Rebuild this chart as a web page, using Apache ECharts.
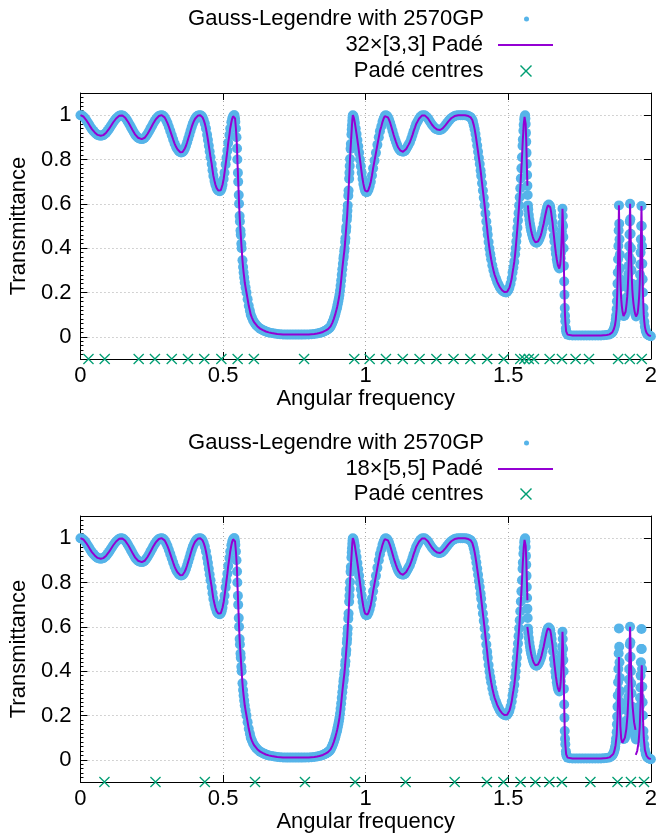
<!DOCTYPE html>
<html>
<head>
<meta charset="utf-8">
<title>Transmittance</title>
<script src="https://cdn.jsdelivr.net/npm/echarts@6/dist/echarts.min.js"></script>
<style>
html,body{margin:0;padding:0;background:#fff;}
#main{width:660px;height:834px;}
</style>
</head>
<body>
<div id="main"></div>
<script>
// Gauss-Legendre reference [angular frequency, transmittance]
var glCurve = [
    [0.000,1.000],[0.005,0.998],[0.010,0.994],[0.015,0.987],[0.020,0.978],[0.025,0.968],[0.030,0.958],[0.035,0.947],
    [0.040,0.937],[0.045,0.929],[0.050,0.922],[0.055,0.916],[0.060,0.911],[0.065,0.908],[0.071,0.907],[0.076,0.908],
    [0.080,0.910],[0.085,0.915],[0.090,0.921],[0.095,0.929],[0.100,0.938],[0.105,0.948],[0.110,0.958],[0.115,0.968],
    [0.120,0.977],[0.125,0.985],[0.130,0.991],[0.136,0.997],[0.142,1.000],[0.147,0.999],[0.152,0.995],[0.157,0.988],
    [0.162,0.980],[0.167,0.969],[0.172,0.958],[0.177,0.946],[0.182,0.934],[0.187,0.923],[0.192,0.912],[0.197,0.904],
    [0.202,0.898],[0.208,0.894],[0.215,0.892],[0.220,0.894],[0.225,0.898],[0.230,0.906],[0.235,0.915],[0.240,0.926],
    [0.245,0.938],[0.250,0.950],[0.255,0.962],[0.260,0.973],[0.265,0.983],[0.270,0.991],[0.275,0.996],[0.280,0.999],
    [0.285,1.000],[0.290,0.997],[0.295,0.990],[0.300,0.978],[0.305,0.964],[0.310,0.947],[0.315,0.928],[0.320,0.909],
    [0.325,0.890],[0.330,0.872],[0.335,0.857],[0.340,0.846],[0.345,0.837],[0.350,0.833],[0.354,0.832],[0.358,0.834],
    [0.362,0.840],[0.366,0.850],[0.370,0.862],[0.374,0.878],[0.378,0.895],[0.382,0.912],[0.386,0.930],[0.390,0.947],
    [0.394,0.962],[0.398,0.974],[0.402,0.984],[0.406,0.992],[0.411,0.997],[0.415,0.999],[0.420,1.000],[0.424,0.997],
    [0.428,0.990],[0.432,0.978],[0.436,0.962],[0.440,0.940],[0.444,0.912],[0.447,0.888],[0.450,0.862],[0.453,0.836],
    [0.456,0.810],[0.460,0.780],[0.463,0.752],[0.466,0.726],[0.470,0.703],[0.473,0.687],[0.477,0.672],[0.480,0.665],
    [0.483,0.660],[0.486,0.658],[0.489,0.657],[0.492,0.661],[0.495,0.670],[0.498,0.686],[0.502,0.712],[0.505,0.740],
    [0.509,0.778],[0.512,0.808],[0.515,0.840],[0.518,0.875],[0.522,0.910],[0.525,0.940],[0.529,0.968],[0.532,0.985],
    [0.535,0.995],[0.538,1.000],[0.540,1.000],[0.542,0.985],[0.543,0.970],[0.545,0.940],[0.547,0.900],[0.549,0.850],
    [0.550,0.800],[0.552,0.740],[0.553,0.700],[0.555,0.640],[0.556,0.600],[0.558,0.545],[0.559,0.520],[0.561,0.480],
    [0.562,0.460],[0.564,0.420],[0.565,0.400],[0.568,0.345],[0.570,0.315],[0.572,0.290],[0.574,0.268],[0.576,0.245],
    [0.579,0.222],[0.582,0.200],[0.586,0.170],[0.590,0.140],[0.594,0.118],[0.597,0.100],[0.601,0.087],[0.605,0.075],
    [0.610,0.064],[0.615,0.055],[0.620,0.048],[0.625,0.042],[0.630,0.037],[0.635,0.033],[0.640,0.030],[0.645,0.027],
    [0.650,0.024],[0.655,0.022],[0.660,0.020],[0.670,0.017],[0.680,0.015],[0.690,0.013],[0.700,0.012],[0.710,0.011],
    [0.720,0.010],[0.730,0.010],[0.740,0.010],[0.750,0.010],[0.760,0.010],[0.770,0.010],[0.780,0.010],[0.790,0.011],
    [0.800,0.011],[0.810,0.012],[0.820,0.013],[0.830,0.015],[0.838,0.017],[0.845,0.020],[0.850,0.022],[0.855,0.025],
    [0.859,0.028],[0.862,0.030],[0.865,0.032],[0.868,0.035],[0.871,0.038],[0.874,0.041],[0.877,0.047],[0.880,0.055],
    [0.883,0.063],[0.885,0.070],[0.888,0.080],[0.890,0.088],[0.893,0.100],[0.895,0.110],[0.898,0.124],[0.900,0.135],
    [0.902,0.147],[0.904,0.160],[0.906,0.174],[0.908,0.189],[0.910,0.208],[0.912,0.230],[0.914,0.254],[0.916,0.280],
    [0.918,0.305],[0.920,0.330],[0.922,0.353],[0.923,0.365],[0.925,0.386],[0.926,0.398],[0.928,0.428],[0.929,0.445],
    [0.931,0.478],[0.932,0.495],[0.934,0.528],[0.935,0.545],[0.936,0.569],[0.937,0.593],[0.939,0.637],[0.940,0.660],
    [0.942,0.713],[0.943,0.740],[0.944,0.771],[0.945,0.802],[0.947,0.848],[0.948,0.870],[0.950,0.913],[0.951,0.935],
    [0.952,0.955],[0.953,0.975],[0.954,0.990],[0.955,1.000],[0.957,0.996],[0.958,0.990],[0.960,0.979],[0.962,0.965],
    [0.965,0.940],[0.968,0.915],[0.971,0.888],[0.974,0.860],[0.977,0.830],[0.980,0.800],[0.983,0.770],[0.986,0.740],
    [0.989,0.713],[0.992,0.690],[0.995,0.672],[0.998,0.660],[1.000,0.655],[1.003,0.652],[1.006,0.655],[1.010,0.665],
    [1.014,0.680],[1.018,0.700],[1.022,0.728],[1.026,0.760],[1.031,0.795],[1.036,0.830],[1.041,0.866],[1.046,0.900],
    [1.050,0.928],[1.055,0.950],[1.059,0.970],[1.063,0.985],[1.067,0.996],[1.070,1.000],[1.074,0.997],[1.078,0.990],
    [1.082,0.979],[1.086,0.965],[1.090,0.948],[1.094,0.930],[1.098,0.912],[1.102,0.895],[1.106,0.880],[1.110,0.866],
    [1.114,0.854],[1.118,0.845],[1.122,0.840],[1.125,0.837],[1.131,0.835],[1.135,0.837],[1.138,0.840],[1.142,0.847],
    [1.146,0.856],[1.150,0.866],[1.155,0.878],[1.160,0.895],[1.164,0.910],[1.168,0.927],[1.173,0.945],[1.177,0.960],
    [1.182,0.972],[1.187,0.984],[1.192,0.993],[1.197,0.998],[1.203,1.000],[1.208,0.998],[1.213,0.993],[1.218,0.986],
    [1.222,0.978],[1.227,0.968],[1.232,0.958],[1.237,0.950],[1.242,0.943],[1.246,0.938],[1.251,0.935],[1.256,0.933],
    [1.261,0.933],[1.266,0.936],[1.270,0.940],[1.275,0.947],[1.280,0.955],[1.285,0.964],[1.290,0.972],[1.295,0.980],
    [1.300,0.986],[1.306,0.992],[1.312,0.996],[1.318,0.999],[1.325,1.000],[1.333,1.000],[1.340,1.000],[1.348,1.000],
    [1.355,0.998],[1.360,0.996],[1.365,0.993],[1.368,0.990],[1.371,0.985],[1.374,0.978],[1.376,0.970],[1.379,0.955],
    [1.382,0.937],[1.385,0.915],[1.388,0.890],[1.391,0.863],[1.394,0.835],[1.397,0.807],[1.400,0.780],[1.403,0.750],
    [1.405,0.727],[1.408,0.693],[1.411,0.660],[1.414,0.627],[1.417,0.593],[1.420,0.556],[1.423,0.520],[1.426,0.487],
    [1.428,0.460],[1.431,0.428],[1.434,0.398],[1.437,0.373],[1.440,0.350],[1.444,0.323],[1.448,0.300],[1.452,0.280],
    [1.457,0.263],[1.461,0.248],[1.466,0.235],[1.470,0.224],[1.475,0.215],[1.479,0.209],[1.483,0.205],[1.487,0.202],
    [1.492,0.200],[1.496,0.203],[1.500,0.210],[1.504,0.222],[1.508,0.240],[1.512,0.263],[1.515,0.290],[1.518,0.313],
    [1.521,0.338],[1.524,0.372],[1.526,0.400],[1.528,0.430],[1.530,0.460],[1.532,0.492],[1.534,0.525],[1.536,0.558],
    [1.538,0.593],[1.540,0.630],[1.542,0.670],[1.544,0.714],[1.546,0.760],[1.548,0.810],[1.550,0.862],[1.551,0.890],
    [1.553,0.930],[1.554,0.957],[1.556,0.980],[1.557,0.992],[1.559,1.000],[1.560,0.985],[1.561,0.960],[1.562,0.920],
    [1.563,0.880],[1.564,0.830],[1.565,0.780],[1.566,0.730],[1.567,0.682],[1.568,0.640],[1.569,0.593],[1.570,0.575],
    [1.572,0.550],[1.574,0.528],[1.576,0.510],[1.578,0.494],[1.580,0.480],[1.583,0.464],[1.586,0.450],[1.589,0.439],
    [1.592,0.430],[1.595,0.427],[1.598,0.425],[1.601,0.426],[1.604,0.430],[1.607,0.437],[1.610,0.445],[1.614,0.458],
    [1.617,0.472],[1.620,0.489],[1.624,0.510],[1.627,0.530],[1.630,0.550],[1.633,0.568],[1.636,0.583],[1.639,0.593],
    [1.642,0.597],[1.645,0.592],[1.647,0.585],[1.650,0.565],[1.652,0.545],[1.655,0.518],[1.657,0.490],[1.660,0.455],
    [1.662,0.430],[1.665,0.397],[1.667,0.375],[1.670,0.350],[1.672,0.335],[1.674,0.323],[1.676,0.315],[1.679,0.308],
    [1.681,0.315],[1.682,0.325],[1.684,0.355],[1.685,0.380],[1.686,0.410],[1.687,0.440],[1.688,0.475],[1.689,0.510],
    [1.690,0.578],[1.691,0.545],[1.692,0.500],[1.693,0.450],[1.694,0.400],[1.695,0.320],[1.696,0.250],[1.697,0.190],
    [1.698,0.130],[1.699,0.095],[1.700,0.070],[1.702,0.038],[1.703,0.025],[1.705,0.016],[1.708,0.010],[1.715,0.007],
    [1.725,0.006],[1.735,0.006],[1.745,0.006],[1.755,0.006],[1.765,0.006],[1.775,0.006],[1.785,0.006],[1.795,0.006],
    [1.805,0.006],[1.815,0.006],[1.825,0.006],[1.835,0.007],[1.845,0.008],[1.855,0.011],[1.862,0.016],[1.865,0.021],
    [1.868,0.028],[1.870,0.034],[1.872,0.042],[1.874,0.052],[1.875,0.060],[1.877,0.078],[1.878,0.095],[1.880,0.125],
    [1.881,0.160],[1.882,0.195],[1.883,0.240],[1.884,0.290],[1.885,0.350],[1.886,0.410],[1.887,0.480],[1.888,0.593],
    [1.889,0.510],[1.890,0.440],[1.891,0.370],[1.892,0.310],[1.893,0.260],[1.894,0.225],[1.896,0.170],[1.898,0.140],
    [1.900,0.120],[1.902,0.105],[1.904,0.094],[1.907,0.095],[1.909,0.100],[1.911,0.112],[1.913,0.130],[1.915,0.152],
    [1.917,0.180],[1.919,0.220],[1.920,0.250],[1.921,0.283],[1.922,0.320],[1.923,0.362],[1.924,0.410],[1.925,0.462],
    [1.926,0.520],[1.927,0.600],[1.928,0.530],[1.929,0.465],[1.930,0.400],[1.931,0.345],[1.932,0.300],[1.934,0.240],
    [1.935,0.210],[1.937,0.176],[1.939,0.150],[1.941,0.130],[1.943,0.115],[1.945,0.103],[1.948,0.092],[1.951,0.097],
    [1.953,0.105],[1.955,0.122],[1.957,0.150],[1.959,0.185],[1.960,0.210],[1.961,0.242],[1.962,0.280],[1.963,0.326],
    [1.964,0.380],[1.965,0.440],[1.966,0.500],[1.967,0.590],[1.968,0.500],[1.969,0.410],[1.970,0.330],[1.971,0.260],
    [1.972,0.200],[1.974,0.130],[1.975,0.100],[1.977,0.068],[1.979,0.045],[1.982,0.028],[1.985,0.018],[1.988,0.011],
    [1.992,0.007],[1.996,0.005],[2.000,0.003]
];

// where the Padé curves leave the reference ('-' = gap between Padé sections)
var pade33Patch = [[1.567,0.682],[1.567,'-'],[1.569,0.593]];
var pade55PatchA = [[1.561,0.965],[1.563,0.905],[1.565,0.815],[1.567,0.720],[1.567,'-'],[1.567,0.600],[1.569,0.580]];
var pade55PatchB = [
    [1.862,0.014],[1.868,0.026],[1.872,0.040],[1.876,0.065],[1.880,0.110],[1.883,0.190],[1.885,0.280],[1.887,0.400],
    [1.888,0.464],[1.889,0.400],[1.891,0.250],[1.893,0.150],[1.896,0.095],[1.900,0.077],[1.904,0.082],[1.909,0.100],
    [1.914,0.140],[1.918,0.200],[1.921,0.280],[1.923,0.370],[1.925,0.480],[1.927,0.600],[1.929,0.500],[1.932,0.350],
    [1.936,0.240],[1.941,0.170],[1.946,0.135],[1.946,'-'],[1.947,0.022],[1.952,0.040],[1.957,0.080],[1.961,0.150],
    [1.964,0.260],[1.966,0.360],[1.968,0.427],[1.970,0.330],[1.972,0.200],[1.975,0.100],[1.979,0.045],[1.985,0.018],
    [1.992,0.007],[2.000,0.003]
];

// Padé centres
var centres33 = [0.028,0.085,0.204,0.261,0.320,0.377,0.434,0.494,0.551,0.608,0.784,0.960,1.014,1.071,1.130,1.189,
    1.248,1.308,1.367,1.426,1.484,1.542,1.556,1.572,1.590,1.645,1.688,1.736,1.783,1.885,1.926,1.968];
var centres55 = [0.084,0.263,0.436,0.612,0.787,0.963,1.140,1.312,1.425,1.483,1.543,1.595,1.644,1.688,1.788,1.883,1.930,1.976];
var centreLevel = -0.1;

var yTicks = [0, 0.2, 0.4, 0.6, 0.8, 1];

var FONT = 'Liberation Sans, Arial, sans-serif';
var CROSS = 'path://M1,0L6,5L11,0L12,1L7,6L12,11L11,12L6,7L1,12L0,11L5,6L0,1Z';

// replace the stretch of pts covered by p
function patch(pts, p) {
    var lo = p[0][0], hi = p[p.length - 1][0];
    var out = [];
    var i;
    for (i = 0; i < pts.length; i++) if (pts[i][0] < lo) out.push(pts[i]);
    for (i = 0; i < p.length; i++) out.push(p[i]);
    for (i = 0; i < pts.length; i++) if (pts[i][0] > hi) out.push(pts[i]);
    return out;
}

// one legend row: text on the left, key centred at x=526
function legendRow(name, center, icon, h, right) {
    var item = {name: name};
    if (icon) item.icon = icon;
    return {
        top: center - 11,
        right: right,
        orient: 'horizontal',
        align: 'right',
        padding: 0,
        itemWidth: 55,
        itemHeight: h,
        selectedMode: false,
        data: [item],
        textStyle: {fontSize: 22, color: '#000', fontFamily: FONT, padding: [0, 10, 0, 0]}
    };
}

function chartTransmittance(id) {
    var myChart = echarts.init(document.getElementById(id));
    var glName = 'Gauss-Legendre with 2570GP';
    var cName = 'Padé centres';
    var names = ['32×[3,3] Padé', '18×[5,5] Padé'];
    var tops = [93, 516];
    var legendCenters = [[19, 45, 71], [443, 469, 494]];
    var lines = [
        patch(glCurve, pade33Patch),
        patch(patch(glCurve, pade55PatchA), pade55PatchB)
    ];
    var centres = [centres33, centres55];

    var grid = [], xAxis = [], yAxis = [], series = [], legend = [];
    var tickStyle = {color: '#000', width: 1};
    var gridLine = {show: true, lineStyle: {color: '#a8a8a8', width: 1, type: [1, 3]}};
    for (var g = 0; g < 2; g++) {
        grid.push({left: 75, right: 8, top: tops[g], height: 266});
        xAxis.push({
            gridIndex: g, type: 'value', min: 0, max: 2, interval: 0.5, position: 'bottom',
            name: 'Angular frequency', nameLocation: 'middle', nameGap: 20,
            nameTextStyle: {fontSize: 22, color: '#000', fontFamily: FONT},
            axisLine: {show: true, onZero: false, lineStyle: tickStyle},
            axisTick: {inside: true, length: 7, lineStyle: tickStyle},
            axisLabel: {fontSize: 22, color: '#000', fontFamily: FONT, margin: 6},
            splitLine: gridLine
        });
        xAxis.push({
            gridIndex: g, type: 'value', min: 0, max: 2, interval: 0.5, position: 'top',
            axisLine: {show: true, onZero: false, lineStyle: tickStyle},
            axisTick: {inside: true, length: 7, lineStyle: tickStyle},
            axisLabel: {show: false}, splitLine: {show: false}
        });
        yAxis.push({
            gridIndex: g, type: 'value', min: -0.1, max: 1.1, position: 'left',
            name: 'Transmittance', nameLocation: 'middle', nameGap: 29,
            nameTextStyle: {fontSize: 22, color: '#000', fontFamily: FONT},
            axisLine: {show: true, onZero: false, lineStyle: tickStyle},
            axisTick: {inside: true, length: 7, customValues: yTicks, lineStyle: tickStyle},
            axisLabel: {customValues: yTicks, fontSize: 22, color: '#000', fontFamily: FONT, margin: 9},
            splitLine: gridLine
        });
        yAxis.push({
            gridIndex: g, type: 'value', min: -0.1, max: 1.1, position: 'right',
            axisLine: {show: true, onZero: false, lineStyle: tickStyle},
            axisTick: {inside: true, length: 7, customValues: yTicks, lineStyle: tickStyle},
            axisLabel: {show: false}, splitLine: {show: false}
        });
        yAxis.push({
            gridIndex: g, type: 'value', min: -0.1, max: 1.1, interval: 0.02, position: 'left',
            axisLine: {show: false},
            axisTick: {inside: true, length: 3, lineStyle: tickStyle},
            axisLabel: {show: false}, splitLine: {show: false}
        });

        series.push({
            name: glName, type: 'scatter', xAxisIndex: g * 2, yAxisIndex: g * 3,
            symbol: 'circle', symbolSize: 10, itemStyle: {color: '#56b4e9', opacity: 1},
            data: glCurve, z: 2
        });
        series.push({
            name: names[g], type: 'line', xAxisIndex: g * 2, yAxisIndex: g * 3,
            symbol: 'none', connectNulls: false,
            lineStyle: {color: '#9400d3', width: 2}, itemStyle: {color: '#9400d3'},
            data: lines[g], z: 3
        });
        series.push({
            name: cName, type: 'scatter', xAxisIndex: g * 2, yAxisIndex: g * 3,
            symbol: CROSS, symbolSize: 11, clip: false, itemStyle: {color: '#009e73', opacity: 1},
            data: centres[g].map(function (c) { return [c, centreLevel]; }), z: 4
        });

        legend.push(legendRow(glName, legendCenters[g][0], 'circle', 5, 131));
        legend.push(legendRow(names[g], legendCenters[g][1], null, 2, 106));
        legend.push(legendRow(cName, legendCenters[g][2], CROSS, 12, 128));
    }

    var option = {
        animation: false,
        backgroundColor: '#fff',
        textStyle: {fontFamily: FONT},
        legend: legend,
        grid: grid,
        xAxis: xAxis,
        yAxis: yAxis,
        series: series
    };
    myChart.setOption(option);
    return myChart;
}

chartTransmittance('main');
</script>
</body>
</html>
